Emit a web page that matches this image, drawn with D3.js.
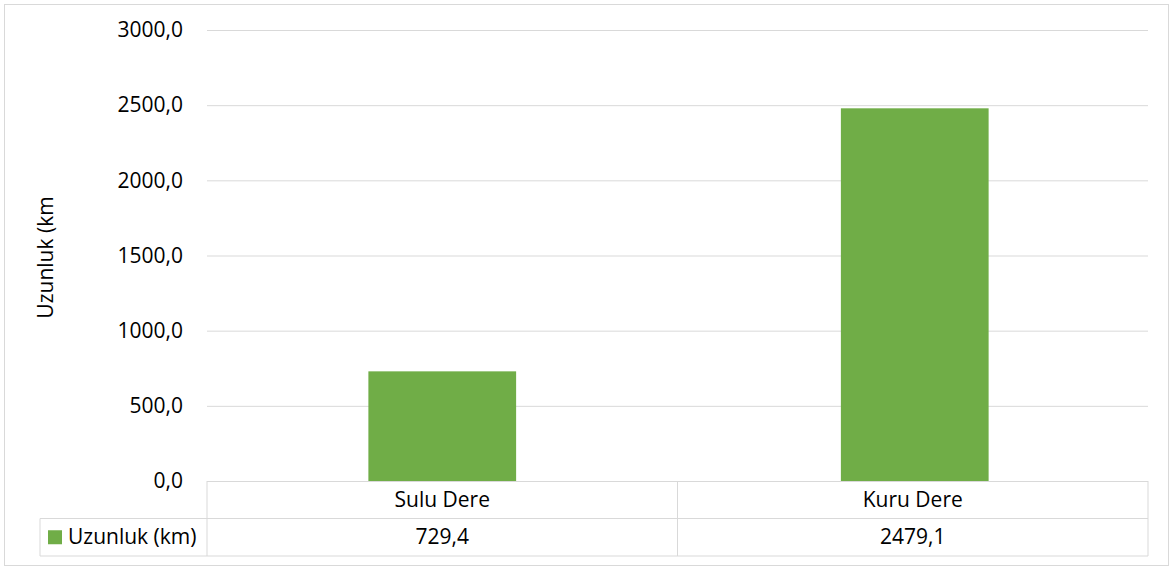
<!DOCTYPE html>
<meta charset="utf-8">
<script src="https://d3js.org/d3.v7.min.js"></script>
<style>
  body { margin: 0; background: #fff; }
  text { font-family: "Open Sans", "Liberation Sans", sans-serif; fill: #000; }
</style>
<body>
<div id="chart"></div>
<script>
// data
var categories = ['Sulu Dere', 'Kuru Dere'];
var values = [729.4, 2479.1];
var seriesName = 'Uzunluk (km)';
var yTicks = [0, 500, 1000, 1500, 2000, 2500, 3000];
var axisTitle = 'Uzunluk (km';

var W = 1172, H = 567;
var fs = '21px';
var margin = {left: 207, right: 24, top: 30, bottom: 86};
var plotW = W - margin.left - margin.right,
    plotH = 481 - margin.top;

var svg = d3.select('#chart').append('svg')
    .attr('width', W).attr('height', H);

// outer border
svg.append('rect')
    .attr('x', 4.5).attr('y', 4.5)
    .attr('width', 1164).attr('height', 561)
    .attr('fill', 'none').attr('stroke', '#d9d9d9');

var g = svg.append('g')
    .attr('transform', 'translate(' + margin.left + ',' + margin.top + ')');

var x = d3.scaleBand().domain(categories).range([0, plotW]).paddingInner(0).paddingOuter(0);
var y = d3.scaleLinear().domain([0, 3000]).range([plotH, 0]);

var fmt = function(v) { return d3.format('.1f')(v).replace('.', ','); };

// gridlines + tick labels
var yAxis = d3.axisLeft(y).tickValues(yTicks).tickSize(-plotW).tickPadding(24).tickFormat(fmt);
var ya = g.append('g').call(yAxis);
ya.select('.domain').remove();
ya.selectAll('.tick line').attr('stroke', '#d9d9d9').attr('stroke-width', 1);
ya.selectAll('.tick text').style('font-size', fs).attr('fill', '#000');

// bars
var barW = x.bandwidth() * 0.314;
g.selectAll('.bar').data(values).enter().append('rect')
    .attr('class', 'bar')
    .attr('x', function(d, i) { return x(categories[i]) + x.bandwidth() / 2 - barW / 2 + (i === 1 ? 2 : 0); })
    .attr('y', function(d) { return y(d); })
    .attr('width', barW)
    .attr('height', function(d) { return plotH - y(d); })
    .attr('fill', '#70ad47');

// axis title
svg.append('text')
    .attr('transform', 'translate(53,' + (margin.top + plotH / 2 + 2) + ') rotate(-90)')
    .attr('text-anchor', 'middle')
    .style('font-size', fs)
    .text(axisTitle);

// data table
var rowTop = margin.top + plotH, rowH = 37.5;
var tbl = svg.append('g').attr('stroke', '#d9d9d9').attr('fill', 'none');
var x0 = margin.left, x1 = margin.left + plotW;
tbl.append('path').attr('d',
  'M' + x0 + ',' + rowTop + 'V' + (rowTop + 2 * rowH) +
  'M' + x1 + ',' + rowTop + 'V' + (rowTop + 2 * rowH) +
  'M40,' + (rowTop + rowH) + 'H' + x1 +
  'M40,' + (rowTop + 2 * rowH) + 'H' + x1 +
  'M40,' + (rowTop + rowH) + 'V' + (rowTop + 2 * rowH));
categories.forEach(function(c, i) {
  if (i > 0) {
    var xx = margin.left + x(c);
    tbl.append('line').attr('x1', xx).attr('x2', xx).attr('y1', rowTop).attr('y2', rowTop + 2 * rowH);
  }
});
svg.selectAll('.cat').data(categories).enter().append('text')
    .attr('x', function(d) { return margin.left + x(d) + x.bandwidth() / 2; })
    .attr('y', rowTop + rowH / 2 + 7)
    .attr('text-anchor', 'middle')
    .style('font-size', fs)
    .text(function(d) { return d; });
svg.selectAll('.val').data(values).enter().append('text')
    .attr('x', function(d, i) { return margin.left + x(categories[i]) + x.bandwidth() / 2; })
    .attr('y', rowTop + rowH * 1.5 + 7)
    .attr('text-anchor', 'middle')
    .style('font-size', fs)
    .text(function(d) { return fmt(d); });

// legend key in table
svg.append('rect').attr('x', 48).attr('y', rowTop + rowH * 1.5 - 7)
    .attr('width', 14).attr('height', 14).attr('fill', '#70ad47');
svg.append('text').attr('x', 68).attr('y', rowTop + rowH * 1.5 + 7)
    .style('font-size', fs).text(seriesName);
</script>
</body>
